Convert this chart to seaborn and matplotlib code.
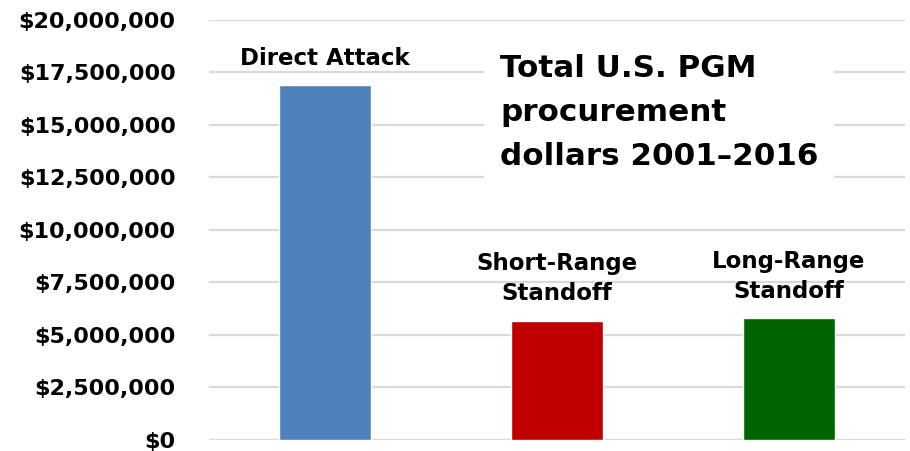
import matplotlib
matplotlib.use("Agg")
import matplotlib.pyplot as plt
import matplotlib.ticker as mticker
import pandas as pd
import seaborn as sns

# ---------------------------------------------------------------------------
# Data
# ---------------------------------------------------------------------------
categories = ["Direct Attack", "Short-Range\nStandoff", "Long-Range\nStandoff"]
dollars = [16_900_000, 5_680_000, 5_810_000]
bar_colors = ["#4f81bd", "#c00000", "#006400"]
y_ticks = [0, 2_500_000, 5_000_000, 7_500_000, 10_000_000,
           12_500_000, 15_000_000, 17_500_000, 20_000_000]
note = "Total U.S. PGM\nprocurement\ndollars 2001\u20132016"

df = pd.DataFrame({"category": categories, "dollars": dollars})

sns.set_style("white")
plt.rcParams["font.family"] = ["DejaVu Sans"]

fig = plt.figure(figsize=(9.10, 4.51), dpi=100)
ax = fig.add_axes([0.2297, 0.0244, 0.7648, 0.9313])

sns.barplot(data=df, x="category", y="dollars", hue="category",
            palette=bar_colors, saturation=1, width=0.4, legend=False,
            ax=ax, zorder=3)

ax.set_ylim(0, 20_000_000)
ax.set_yticks(y_ticks)
ax.yaxis.set_major_formatter(mticker.FuncFormatter(lambda v, _: f"${v:,.0f}"))
ax.yaxis.grid(True, color="#d9d9d9", linewidth=1.6, zorder=0)
ax.set_axisbelow(True)
for s in ax.spines.values():
    s.set_visible(False)
ax.tick_params(axis="y", length=0, pad=24, labelsize=16, labelcolor="black")
for lbl in ax.get_yticklabels():
    lbl.set_fontweight("bold")
ax.set_xticks([])
ax.set_xlabel("")
ax.set_ylabel("")
ax.set_xlim(-0.5, 2.5)

# category labels above each bar
for i, (cat, val) in enumerate(zip(categories, dollars)):
    ax.annotate(cat, xy=(i, val), xytext=(0, 11), textcoords="offset points",
                ha="center", va="bottom", fontsize=16.5, fontweight="bold",
                linespacing=1.4, color="black")

# boxed note
ax.text(0.418, 0.918, note, transform=ax.transAxes, ha="left", va="top",
        fontsize=22.3, fontweight="bold", linespacing=1.65, color="black",
        bbox=dict(boxstyle="square,pad=0.5", fc="white", ec="none"), zorder=5)

fig.savefig("out.png", dpi=100)
